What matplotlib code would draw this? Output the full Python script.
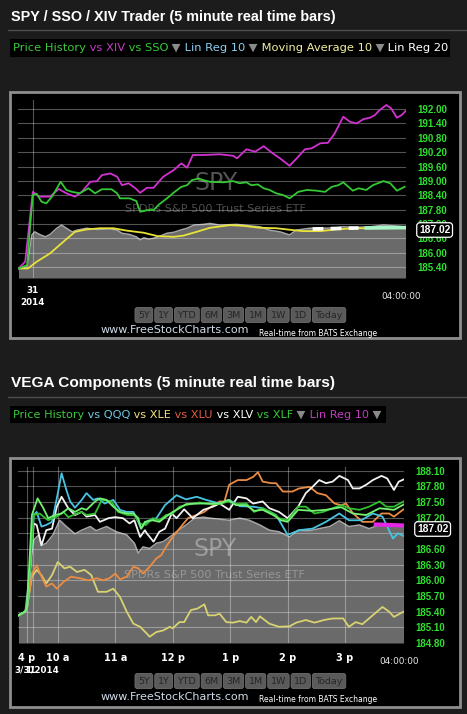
import matplotlib
matplotlib.use("Agg")
import matplotlib.pyplot as plt
from matplotlib.patches import Rectangle

# ---- data (time = minutes after 9:30, price in SPY units) ----
xiv_t = [-11, -4, 4, 11, 22, 31, 39, 48, 55, 64, 71, 76, 85, 92, 97, 104, 111, 116, 123, 130,
         140, 151, 159, 165, 171, 182, 199, 206, 213, 217, 227, 236, 245, 253, 262, 272, 281, 288, 295, 304,
         312, 319, 328, 335, 342, 349, 356, 361, 366, 373, 378, 384, 389, 393]
xiv_p = [185.34, 185.62, 188.54, 188.34, 188.34, 188.66, 188.48, 188.34, 188.54, 188.96,
         188.99, 189.24, 189.31, 189.17, 188.82, 188.90, 188.69, 188.50, 188.71, 188.71,
         189.17, 189.45, 189.73, 189.55, 190.08, 190.08, 190.11, 190.08, 190.05, 189.94,
         190.32, 190.22, 190.45, 190.19, 189.94, 189.63, 190.01, 190.32, 190.36, 190.57,
         190.59, 190.98, 191.68, 191.47, 191.40, 191.58, 191.64, 191.75, 191.96, 192.17,
         192.03, 191.64, 191.75, 191.92]

sso_t = [-11, -2, 1, 4, 8, 13, 18, 24, 33, 39, 45, 53, 62, 69, 76, 86, 92, 95, 105, 112,
         116, 124, 130, 135, 144, 152, 159, 165, 170, 177, 182, 189, 203, 213, 220, 227, 232, 239, 245, 251,
         258, 265, 272, 281, 290, 300, 309, 316, 323, 328, 338, 344, 352, 359, 370, 377, 384, 392]
sso_p = [185.34, 185.48, 187.02, 188.41, 188.46, 188.13, 188.06, 188.34, 188.96, 188.62,
         188.54, 188.48, 188.69, 188.48, 188.65, 188.65, 188.48, 188.27, 188.27, 188.16,
         187.71, 187.78, 187.78, 187.99, 188.27, 188.54, 188.75, 188.82, 189.03, 189.10,
         189.03, 188.96, 188.94, 188.99, 188.90, 188.94, 188.82, 188.85, 188.69, 188.62,
         188.48, 188.41, 188.27, 188.54, 188.62, 188.59, 188.54, 188.75, 188.82, 188.94,
         188.59, 188.69, 188.62, 188.82, 188.99, 188.90, 188.59, 188.75]

spy1_t = [-11, -2, 3, 6, 11, 17, 22, 29, 34, 39, 45, 50, 60, 71, 85, 92, 97, 105, 112, 116,
          120, 125, 130, 135, 144, 151, 158, 165, 172, 182, 189, 199, 217, 231, 241, 251, 262, 272, 279, 293,
          307, 321, 328, 342, 356, 370, 384, 393]
spy1_p = [185.34, 185.41, 186.74, 186.87, 186.76, 186.66, 186.76, 187.02, 187.15, 187.02,
          186.87, 186.94, 187.02, 186.97, 186.99, 186.94, 186.81, 186.76, 186.66, 186.53,
          186.62, 186.56, 186.60, 186.66, 186.81, 186.85, 186.94, 187.02, 187.15, 187.18,
          187.22, 187.15, 187.18, 187.12, 187.08, 186.94, 186.87, 186.74, 186.94, 187.02,
          187.02, 187.04, 187.08, 187.06, 187.08, 187.15, 187.11, 187.07]

ma_t = [-11, -1, 8, 22, 36, 48, 60, 74, 88, 102, 120, 134, 151, 161, 175, 189, 210, 224, 241, 258,
        276, 286, 304, 321, 338, 356, 374, 393]
ma_p = [185.34, 185.34, 185.62, 185.97, 186.46, 186.87, 186.97, 187.02, 187.02, 186.92,
        186.83, 186.69, 186.66, 186.71, 186.87, 187.04, 187.15, 187.12, 187.04, 187.02,
        186.94, 186.90, 186.90, 186.97, 187.02, 187.02, 187.02, 187.02]

lr20_t = [296, 344]
lr20_p = [186.99, 187.03]
lr10_t = [352, 393]
lr10_p = [187.03, 187.05]

spy2_t = [-11, -4, 2, 5, 10, 13, 18, 25, 32, 39, 48, 55, 64, 70, 81, 91, 102, 110, 114, 119,
          126, 133, 140, 147, 156, 164, 173, 182, 189, 199, 209, 220, 230, 241, 251, 261, 272, 281, 293, 303,
          314, 324, 334, 345, 355, 366, 376, 391]
spy2_p = [185.33, 185.40, 186.39, 186.77, 186.87, 186.67, 186.71, 186.87, 187.15, 187.03,
          186.89, 186.96, 187.03, 186.95, 187.03, 186.93, 186.87, 186.71, 186.52, 186.64,
          186.61, 186.71, 186.74, 186.83, 186.96, 187.06, 187.19, 187.21, 187.19, 187.17,
          187.15, 187.19, 187.15, 187.06, 186.96, 186.93, 186.83, 186.96, 186.95, 186.99,
          187.03, 187.14, 187.03, 187.06, 186.99, 187.06, 187.04, 187.04]

qqq_t = [-11, -4, -2, 5, 8, 13, 18, 24, 29, 34, 39, 43, 48, 55, 60, 67, 72, 79, 88, 95, 102,
         109, 114, 117, 121, 124, 133, 142, 154, 164, 175, 185, 199, 209, 220, 234, 244, 258, 270, 282, 296,
         310, 324, 334, 347, 359, 369, 380, 385, 391]
qqq_p = [185.33, 185.40, 185.49, 187.25, 187.31, 187.03, 187.06, 187.12, 187.57, 188.05, 187.73,
         187.51, 187.39, 187.54, 187.67, 187.54, 187.57, 187.47, 187.54, 187.35, 187.31,
         187.31, 187.12, 186.99, 187.09, 187.14, 187.19, 187.44, 187.63, 187.55, 187.60,
         187.54, 187.47, 187.54, 187.42, 187.41, 187.38, 187.25, 186.87, 186.96, 186.99,
         187.12, 187.28, 187.15, 187.15, 187.28, 187.22, 186.80, 186.90, 186.85]

xlv_t = [-11, -4, -2, 5, 8, 13, 18, 24, 29, 34, 41, 48, 55, 60, 69, 74, 83, 90, 98, 105,
         110, 116, 121, 123, 130, 136, 142, 149, 154, 162, 171, 182, 192, 199, 209, 218, 227, 234, 244, 251,
         261, 270, 281, 289, 296, 303, 310, 317, 324, 333, 338, 345, 352, 359, 368, 374, 381, 386, 391]
xlv_p = [185.33, 185.40, 185.49, 187.09, 187.06, 186.67, 186.96, 186.99, 187.41, 187.60,
         187.38, 187.25, 187.31, 187.22, 187.25, 187.12, 187.19, 187.21, 187.19, 187.09,
         187.15, 186.83, 186.96, 186.90, 186.74, 186.93, 186.99, 187.28, 187.19, 187.36,
         187.19, 187.35, 187.41, 187.47, 187.35, 187.60, 187.57, 187.47, 187.51, 187.38,
         187.31, 187.19, 187.41, 187.67, 187.79, 187.92, 187.86, 187.89, 188.00, 187.92,
         187.76, 187.76, 187.83, 187.92, 188.00, 187.95, 187.73, 187.89, 187.93]

xlu_t = [-11, -4, -2, 3, 8, 13, 18, 24, 29, 36, 44, 53, 62, 71, 77, 84, 90, 95, 102, 109,
         114, 119, 126, 133, 138, 143, 150, 157, 166, 175, 183, 190, 199, 204, 209, 218, 227, 234, 239, 244,
         253, 258, 265, 275, 282, 293, 301, 310, 319, 326, 331, 338, 348, 359, 368, 376, 381, 391]
xlu_p = [185.33, 185.40, 185.49, 186.13, 186.29, 186.07, 185.88, 185.94, 185.84, 185.97,
         186.07, 186.04, 186.00, 186.04, 186.00, 186.04, 186.13, 186.02, 186.07, 186.26,
         186.23, 186.13, 186.26, 186.42, 186.48, 186.64, 186.83, 186.99, 187.19, 187.25,
         187.31, 187.41, 187.51, 187.51, 187.83, 187.92, 187.92, 187.98, 188.07, 187.89,
         187.86, 187.86, 187.70, 187.70, 187.76, 187.79, 187.67, 187.63, 187.47, 187.44,
         187.47, 187.29, 187.12, 187.12, 187.28, 187.28, 187.22, 187.36]

xle_t = [-11, -4, -2, 3, 8, 13, 18, 24, 30, 37, 43, 50, 58, 65, 72, 81, 88, 95, 102, 109,
         116, 123, 126, 133, 140, 147, 150, 157, 162, 169, 176, 183, 187, 194, 199, 206, 213, 220, 227, 232,
         237, 241, 251, 261, 272, 279, 289, 298, 308, 317, 328, 334, 341, 348, 355, 362, 369, 376, 381, 391]
xle_p = [185.33, 185.40, 185.49, 186.07, 186.20, 186.10, 185.94, 186.10, 186.35, 186.23,
         186.26, 186.16, 186.20, 186.10, 185.78, 185.78, 185.84, 185.68, 185.40, 185.17,
         185.11, 184.98, 184.92, 185.01, 185.04, 185.11, 185.08, 185.20, 185.20, 185.43,
         185.46, 185.54, 185.33, 185.33, 185.36, 185.20, 185.19, 185.22, 185.19, 185.30,
         185.20, 185.31, 185.17, 185.11, 185.12, 185.19, 185.24, 185.19, 185.24, 185.27,
         185.27, 185.11, 185.20, 185.16, 185.27, 185.38, 185.49, 185.40, 185.30, 185.40]

xlf_t = [-11, -4, -2, 5, 11, 20, 29, 36, 41, 50, 55, 60, 69, 76, 86, 93, 103, 110, 116, 122,
         129, 136, 143, 150, 157, 164, 171, 178, 189, 199, 208, 216, 227, 235, 244, 255, 261, 270, 281, 289,
         298, 307, 317, 326, 334, 345, 355, 366, 373, 381, 391]
xlf_p = [185.33, 185.40, 185.49, 187.25, 187.28, 187.15, 187.22, 187.31, 187.21, 187.28,
         187.31, 187.25, 187.28, 187.54, 187.51, 187.31, 187.25, 187.25, 187.08, 187.06,
         187.19, 187.15, 187.25, 187.28, 187.41, 187.44, 187.47, 187.49, 187.46, 187.46,
         187.51, 187.46, 187.47, 187.31, 187.38, 187.28, 187.19, 187.15, 187.41, 187.41,
         187.28, 187.31, 187.38, 187.44, 187.38, 187.35, 187.41, 187.51, 187.41, 187.41, 187.51]

ph_t = [-11, -4, -2, 3, 9, 15, 20, 27, 34, 41, 48, 55, 60, 69, 74, 81, 88, 95, 103, 109,
        114, 117, 121, 129, 136, 143, 150, 157, 164, 178, 199, 208, 216, 227, 235, 244, 255, 263, 270, 281,
        296, 310, 326, 338, 352, 366, 381, 391]
ph_p = [185.33, 185.40, 185.49, 187.25, 187.57, 187.38, 187.19, 187.25, 187.28, 187.38,
        187.31, 187.38, 187.35, 187.51, 187.57, 187.54, 187.41, 187.31, 187.28, 187.28,
        187.19, 186.99, 187.12, 187.15, 187.12, 187.22, 187.31, 187.38, 187.46, 187.47,
        187.47, 187.54, 187.44, 187.44, 187.33, 187.35, 187.25, 187.15, 187.12, 187.35,
        187.33, 187.35, 187.40, 187.28, 187.25, 187.38, 187.35, 187.45]

lrv_t = [362, 391]
lrv_p = [187.07, 187.05]

top_ticks = [185.40, 186.00, 186.60, 187.20, 187.80, 188.40, 189.00, 189.60, 190.20, 190.80, 191.40, 192.00]
bot_ticks = [184.80, 185.10, 185.40, 185.70, 186.00, 186.30, 186.60, 186.90, 187.20, 187.50, 187.80, 188.10]
hour_t = [-2, 30, 90, 150, 210, 270, 330]
hour_labels = ['4 p', '10 a', '11 a', '12 p', '1 p', '2 p', '3 p']
last_price = '187.02'
button_labels = ['5Y', '1Y', 'YTD', '6M', '3M', '1M', '1W', '1D', 'Today']

# ---- figure ----
W, H = 467, 714
fig = plt.figure(figsize=(W / 100, H / 100), dpi=100)
fig.patch.set_facecolor('#1c1c1c')
renderer = fig.canvas.get_renderer()

GREEN_TICK = '#2ee02e'


def ftext(x, y, s, **kw):
    return fig.text(x / W, 1 - y / H, s, **kw)


def rect(x0, y0, x1, y1, **kw):
    r = Rectangle((x0 / W, 1 - y1 / H), (x1 - x0) / W, (y1 - y0) / H,
                  transform=fig.transFigure, zorder=-1, **kw)
    fig.add_artist(r)


def fit_size(s, width, **kw):
    probe = ftext(0, 0, s, fontsize=10, **kw)
    w = probe.get_window_extent(renderer).width
    probe.remove()
    return 10 * width / w


def run(x, y, pieces, width, **kw):
    size = fit_size(''.join(p for p, _ in pieces), width, **kw)
    for s, c in pieces:
        t = ftext(x, y, s, fontsize=size, color=c, va='center', **kw)
        x += t.get_window_extent(renderer).width


def header(title, y_title, y_sep, y_leg0, y_leg1, leg_x1, pieces, leg_w):
    ftext(11, y_title, title, color='white', va='center', family='Liberation Sans', weight='bold',
          fontsize=fit_size(title, 324, family='Liberation Sans', weight='bold'))
    fig.add_artist(plt.Line2D([8 / W, 1], [1 - y_sep / H] * 2, color='#4e4e4e', lw=1,
                              transform=fig.transFigure))
    rect(10, y_leg0, leg_x1, y_leg1, facecolor='black', edgecolor='none')
    run(13, (y_leg0 + y_leg1) / 2, pieces, leg_w, family='DejaVu Sans')


def footer(y_btn, y_web):
    x = 135
    for lab in button_labels:
        t = ftext(x + 3, y_btn, lab, fontsize=6.8, color='#262626', va='center', family='DejaVu Sans',
                  bbox=dict(boxstyle='round,pad=0.32,rounding_size=0.25', fc='#5a5a5a', ec='#6e6e6e', lw=0.6))
        x += t.get_window_extent(renderer).width + 8
    ftext(101, y_web, 'www.FreeStockCharts.com', color='#cfdbe8', va='center', family='DejaVu Sans',
          fontsize=fit_size('www.FreeStockCharts.com', 148, family='DejaVu Sans'))
    ftext(259, y_web + 3, 'Real-time from BATS Exchange', color='white', va='center', family='DejaVu Sans',
          fontsize=fit_size('Real-time from BATS Exchange', 119, family='DejaVu Sans'))


def price_axes(px0, px1, py0, py1, ticks, ylim, xlim):
    ax = fig.add_axes([px0 / W, 1 - py1 / H, (px1 - px0) / W, (py1 - py0) / H])
    ax.set_facecolor('black')
    for s in ax.spines.values():
        s.set_visible(False)
    ax.set_xlim(*xlim)
    ax.set_ylim(*ylim)
    ax.yaxis.tick_right()
    ax.set_yticks(ticks)
    ax.set_yticklabels(['%.2f' % v for v in ticks])
    ax.tick_params(axis='y', length=0, pad=8, labelsize=7, labelcolor=GREEN_TICK)
    for lab in ax.get_yticklabels():
        lab.set_family('Liberation Sans')
        lab.set_weight('bold')
    ax.grid(True, color='white', alpha=0.33, lw=0.8)
    ax.set_axisbelow('line')
    return ax


def mountain(ax, t, p):
    ax.fill_between(t, p, ax.get_ylim()[0], color='#6a6a6a', lw=0, zorder=1)
    ax.plot(t, p, color='#a6a6a6', lw=1.1, zorder=1.2)


def watermark(ax):
    ax.text(0.51, 0.535, 'SPY', transform=ax.transAxes, ha='center', va='center', fontsize=17,
            color='white', alpha=0.33, family='DejaVu Sans', zorder=3)
    ax.text(0.51, 0.387, 'SPDRs S&P 500 Trust Series ETF', transform=ax.transAxes, ha='center',
            va='center', fontsize=8.1, color='white', alpha=0.3, family='DejaVu Sans', zorder=3)


def price_box(x, y):
    ftext(x, y, last_price, color='white', fontsize=7.4, weight='bold', family='Liberation Sans',
          va='center', ha='left', zorder=5,
          bbox=dict(boxstyle='round,pad=0.22,rounding_size=0.3', fc='black', ec='white', lw=0.9))


# ---- top panel ----
header('SPY / SSO / XIV Trader (5 minute real time bars)', 17, 29.5, 39, 57, 450,
       [('Price History', '#3cc83c'), (' vs XIV', '#c23ac2'), (' vs SSO', '#38c838'),
        (' \u25bc', '#8a8a8a'), (' Lin Reg 10', '#8ccdf0'), (' \u25bc', '#8a8a8a'),
        (' Moving Average 10', '#f2eea0'), (' \u25bc', '#8a8a8a'), (' Lin Reg 20', 'white')], 435)
rect(10, 92, 460, 338, facecolor='black', edgecolor='#8e8e8e', lw=2)

ax1 = price_axes(18, 406, 100, 278, top_ticks, (184.94, 192.38), (-11.5, 393.5))
ax1.set_xticks([4])
ax1.set_xticklabels(['31\n2014'])
ax1.tick_params(axis='x', length=0, pad=6, labelsize=6.3, labelcolor='white')
for lab in ax1.get_xticklabels():
    lab.set_weight('bold')
    lab.set_linespacing(1.35)
mountain(ax1, spy1_t, spy1_p)
watermark(ax1)
ax1.plot(ma_t, ma_p, color='#e8e23a', lw=1.3, zorder=4)
ax1.plot(xiv_t, xiv_p, color='#d232d2', lw=1.3, zorder=4)
ax1.plot(sso_t, sso_p, color='#34c834', lw=1.3, zorder=4)
ax1.plot(lr20_t, lr20_p, color='white', lw=2.6, ls=(0, (3, 2)), zorder=4.5)
ax1.plot(lr10_t, lr10_p, color='#a8f5c8', lw=2.6, zorder=4.5)
ftext(381, 296, '04:00:00', color='#e6e6e6', fontsize=6.4, va='center', family='DejaVu Sans')
price_box(419, 230)
footer(315, 330)

# ---- bottom panel ----
header('VEGA Components (5 minute real time bars)', 383, 397, 406, 423, 386,
       [('Price History', '#3cc83c'), (' vs QQQ', '#6ccbe4'), (' vs XLE', '#f0e27a'),
        (' vs XLU', '#e2603e'), (' vs XLV', 'white'), (' vs XLF', '#38c838'),
        (' \u25bc', '#8a8a8a'), (' Lin Reg 10', '#c43cc4'), (' \u25bc', '#8a8a8a')], 368)
rect(10, 458, 460, 707, facecolor='black', edgecolor='#8e8e8e', lw=2)

ax2 = price_axes(18, 404, 467, 643, bot_ticks, (184.80, 188.17), (-11.5, 391.5))
ax2.set_xticks(hour_t)
ax2.set_xticklabels(hour_labels)
ax2.tick_params(axis='x', length=0, pad=7, labelsize=7, labelcolor='white')
for lab in ax2.get_xticklabels():
    lab.set_weight('bold')
ax2.axvline(4, color='white', alpha=0.33, lw=0.8, zorder=1.5)
mountain(ax2, spy2_t, spy2_p)
watermark(ax2)
ax2.plot(xle_t, xle_p, color='#d8d272', lw=1.3, zorder=4)
ax2.plot(xlu_t, xlu_p, color='#ea8c44', lw=1.3, zorder=4)
ax2.plot(xlv_t, xlv_p, color='#f2f2f2', lw=1.3, zorder=4)
ax2.plot(qqq_t, qqq_p, color='#48c4e2', lw=1.3, zorder=4)
ax2.plot(xlf_t, xlf_p, color='#30c030', lw=1.3, zorder=4)
ax2.plot(ph_t, ph_p, color='#74f074', lw=1.3, zorder=4)
ax2.plot(lrv_t, lrv_p, color='#e626e6', lw=3, zorder=5)
ftext(14, 670, '3/31', color='white', fontsize=6.3, weight='bold', va='center', family='DejaVu Sans')
ftext(25, 670, '1/2014', color='white', fontsize=6.3, weight='bold', va='center', family='DejaVu Sans')
ftext(379, 662, '04:00:00', color='#e6e6e6', fontsize=6.4, va='center', family='DejaVu Sans')
price_box(417, 529)
footer(681, 697)

fig.savefig('out.png', dpi=100, facecolor=fig.get_facecolor())
